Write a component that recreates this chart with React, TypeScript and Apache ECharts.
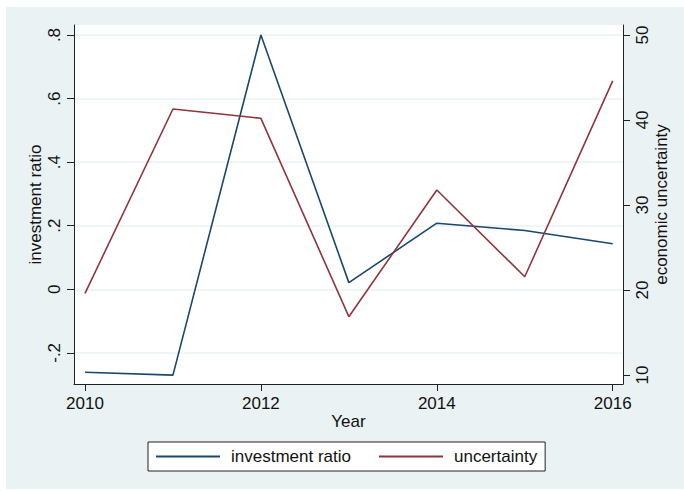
import React, { useEffect, useRef } from "react";
import * as echarts from "echarts";

const years = [2010, 2011, 2012, 2013, 2014, 2015, 2016];
const investmentRatio = [-0.261, -0.27, 0.8, 0.021, 0.208, 0.185, 0.143];
const uncertainty = [19.6, 41.3, 40.2, 16.86, 31.76, 21.56, 44.6];
const xTicks = [2010, 2012, 2014, 2016];
const leftTicks = [-0.2, 0, 0.2, 0.4, 0.6, 0.8];
const rightTicks = [10, 20, 30, 40, 50];

const BLUE = "#1A476F";
const RED = "#90353B";
const BG = "#EAF2F3";
const FONT = "Liberation Sans";

const fmtStata = (v: number) => {
  if (Math.abs(v) < 1e-9) return "0";
  const s = String(Math.round(v * 10) / 10);
  return s.replace(/^0\./, ".").replace(/^-0\./, "-.");
};

export default function App() {
  const ref = useRef<HTMLDivElement>(null);
  useEffect(() => {
    document.body.style.margin = "0";
    const chart = echarts.init(ref.current!, null, { renderer: "svg" });
    const axisLine = { show: true, onZero: false, lineStyle: { color: "#222", width: 1 } };
    const labelStyle = { color: "#111", fontFamily: FONT, fontSize: 17 };
    chart.setOption({
      animation: false,
      backgroundColor: "#fff",
      graphic: [
        {
          type: "rect",
          left: 6,
          top: 7,
          shape: { width: 678, height: 482 },
          style: { fill: BG },
          z: -100,
          silent: true,
        },
      ],
      grid: {
        left: 74,
        right: 61,
        top: 25,
        bottom: 107,
        show: true,
        backgroundColor: "#fff",
        borderWidth: 0,
      },
      legend: {
        left: 148,
        top: 442,
        width: 401,
        padding: [6, 8, 6, 8],
        itemGap: 28,
        itemWidth: 64,
        itemHeight: 2,
        icon: "rect",
        borderColor: "#222",
        borderWidth: 1,
        backgroundColor: "#fff",
        textStyle: { ...labelStyle, padding: [0, 0, 0, 6] },
        data: ["investment ratio", "uncertainty"],
      },
      xAxis: {
        type: "value",
        min: 2009.875,
        max: 2016.117,
        name: "Year",
        nameLocation: "middle",
        nameGap: 29,
        nameMoveOverlap: false,
        nameTextStyle: labelStyle,
        axisLine,
        axisTick: { show: true, length: 7, customValues: xTicks, lineStyle: { color: "#222" } },
        axisLabel: { ...labelStyle, margin: 11, customValues: xTicks, formatter: (v: number) => String(v) },
        splitLine: { show: false },
      },
      yAxis: [
        {
          type: "value",
          position: "left",
          min: -0.298,
          max: 0.8315,
          name: "investment ratio",
          nameLocation: "middle",
          nameGap: 30,
          nameMoveOverlap: false,
          nameRotate: 90,
          nameTextStyle: labelStyle,
          axisLine,
          axisTick: { show: true, length: 7, customValues: leftTicks, lineStyle: { color: "#222" } },
          axisLabel: { ...labelStyle, rotate: 90, margin: 11, customValues: leftTicks, formatter: fmtStata },
          splitLine: { show: true, lineStyle: { color: BG, width: 1.5 } },
        },
        {
          type: "value",
          position: "right",
          min: 8.94,
          max: 51.18,
          name: "economic uncertainty",
          nameLocation: "middle",
          nameGap: 30,
          nameMoveOverlap: false,
          nameRotate: 90,
          nameTextStyle: labelStyle,
          axisLine,
          axisTick: { show: true, length: 7, customValues: rightTicks, lineStyle: { color: "#222" } },
          axisLabel: { ...labelStyle, rotate: 90, margin: 11, customValues: rightTicks, formatter: (v: number) => String(v) },
          splitLine: { show: false },
        },
      ],
      series: [
        {
          name: "investment ratio",
          type: "line",
          yAxisIndex: 0,
          data: years.map((y, i) => [y, investmentRatio[i]]),
          showSymbol: false,
          symbol: "none",
          color: BLUE,
          lineStyle: { color: BLUE, width: 1.6 },
        },
        {
          name: "uncertainty",
          type: "line",
          yAxisIndex: 1,
          data: years.map((y, i) => [y, uncertainty[i]]),
          showSymbol: false,
          symbol: "none",
          color: RED,
          lineStyle: { color: RED, width: 1.6 },
        },
      ],
    });
    return () => chart.dispose();
  }, []);
  return (
    <div style={{ width: 684, height: 491, background: "#fff" }}>
      <div ref={ref} style={{ width: 684, height: 491 }} />
    </div>
  );
}
